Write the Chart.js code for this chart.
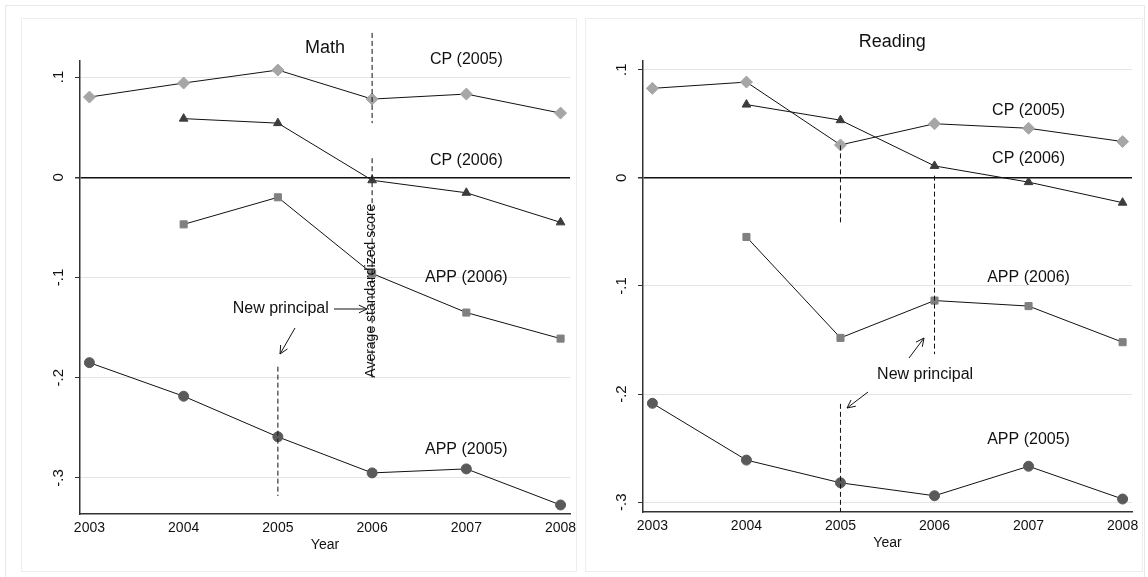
<!DOCTYPE html>
<html><head><meta charset="utf-8">
<script src="https://cdn.jsdelivr.net/npm/chart.js@4"></script>
<style>
body{margin:0;background:#fff;width:1148px;height:577px;position:relative;overflow:hidden;font-family:"Liberation Sans",Arial,sans-serif}
.frame{position:absolute;left:5px;top:5px;width:1138px;height:580px;border:1px solid #e8e8e8}
.panel{position:absolute;top:18px;height:552px;border:1px solid #eee}
canvas{position:absolute;top:0}
</style></head><body>
<div class="frame"></div>
<div class="panel" style="left:21px;width:554px"></div>
<div class="panel" style="left:585px;width:556px"></div>
<canvas id="math" style="left:0"></canvas>
<canvas id="reading" style="left:575px"></canvas>
<script>
const years = [2003, 2004, 2005, 2006, 2007, 2008];
const yTicks = [-0.3, -0.2, -0.1, 0, 0.1];

const mathCP2005 = [0.080, 0.094, 0.107, 0.078, 0.083, 0.064];
const mathCP2006 = [null, 0.0585, 0.054, -0.003, -0.0155, -0.045];
const mathAPP2006 = [null, -0.047, -0.020, -0.096, -0.135, -0.161];
const mathAPP2005 = [-0.185, -0.2185, -0.259, -0.295, -0.291, -0.327];

const readCP2005 = [0.0827, 0.0885, 0.0304, 0.050, 0.0458, 0.0335];
const readCP2006 = [null, 0.0677, 0.0533, 0.011, -0.004, -0.023];
const readAPP2006 = [null, -0.0547, -0.148, -0.1135, -0.1186, -0.152];
const readAPP2005 = [-0.2085, -0.261, -0.282, -0.294, -0.2667, -0.297];

const FONT = '"Liberation Sans", Arial, sans-serif';

function series(label, values, style, color) {
  return {
    label,
    data: years.map((x, i) => values[i] == null ? null : { x, y: values[i] }).filter(Boolean),
    borderColor: "#111",
    borderWidth: 1,
    pointStyle: style,
    pointRadius: style === "rectRot" ? 6 : 5,
    pointBackgroundColor: color,
    pointBorderColor: color,
    tension: 0,
  };
}

function arrow(ctx, x1, y1, x2, y2) {
  ctx.beginPath();
  ctx.moveTo(x1, y1);
  ctx.lineTo(x2, y2);
  const a = Math.atan2(y2 - y1, x2 - x1);
  ctx.moveTo(x2, y2);
  ctx.lineTo(x2 - 9 * Math.cos(a - 0.45), y2 - 9 * Math.sin(a - 0.45));
  ctx.moveTo(x2, y2);
  ctx.lineTo(x2 - 9 * Math.cos(a + 0.45), y2 - 9 * Math.sin(a + 0.45));
  ctx.stroke();
}

function annotationPlugin(draw) {
  return {
    id: "notes",
    afterDatasetsDraw(chart) {
      const { ctx, scales: { x, y } } = chart;
      ctx.save();
      ctx.strokeStyle = "#111";
      ctx.fillStyle = "#111";
      ctx.lineWidth = 1;
      ctx.font = `15px ${FONT}`;
      ctx.textAlign = "center";
      ctx.textBaseline = "middle";
      yTicks.forEach(v => {
        ctx.save();
        ctx.translate(y.left + 9, y.getPixelForValue(v));
        ctx.rotate(-Math.PI / 2);
        ctx.fillText(v === 0 ? "0" : String(v).replace("0.", "."), 0, 0);
        ctx.restore();
      });
      const P = (vx, vy) => [x.getPixelForValue(vx), y.getPixelForValue(vy)];
      const dashed = (vx, y1, y2) => {
        ctx.save();
        ctx.setLineDash([5, 3]);
        ctx.beginPath();
        ctx.moveTo(...P(vx, y1));
        ctx.lineTo(...P(vx, y2));
        ctx.stroke();
        ctx.restore();
      };
      const text = (s, vx, vy, size) => {
        ctx.font = `${size}px ${FONT}`;
        ctx.fillText(s, ...P(vx, vy));
      };
      draw({ ctx, P, dashed, text });
      ctx.restore();
    },
  };
}

function makeChart(id, width, pad, yMin, yMax, data, draw) {
  const canvas = document.getElementById(id);
  canvas.width = width;
  canvas.height = 577;
  canvas.style.width = width + "px";
  canvas.style.height = "577px";
  return new Chart(canvas, {
    type: "line",
    data: { datasets: data },
    options: {
      responsive: false,
      animation: false,
      layout: { padding: pad },
      plugins: { legend: { display: false }, tooltip: { enabled: false } },
      scales: {
        x: {
          type: "linear", min: 2002.9, max: 2008.1,
          afterBuildTicks: s => { s.ticks = years.map(value => ({ value })); },
          afterFit: s => { s.height = 44; },
          grid: { display: false, drawTicks: true, tickLength: 5, color: "#333" },
          border: { color: "#333", width: 1.5 },
          ticks: { color: "#111", font: { family: FONT, size: 14 }, maxRotation: 0, padding: 1, callback: v => String(v) },
          title: { display: true, text: "Year", color: "#111", font: { family: FONT, size: 14 }, padding: { top: -3 } },
        },
        y: {
          min: yMin, max: yMax,
          afterBuildTicks: s => { s.ticks = yTicks.map(value => ({ value })); },
          afterFit: s => { s.width = 30; },
          grid: {
            color: c => c.tick && c.tick.value === 0 ? "#111" : "#e4e4e4",
            lineWidth: c => c.tick && c.tick.value === 0 ? 1.5 : 1,
            tickColor: "#333", tickLength: 5,
          },
          border: { color: "#333", width: 1.5 },
          ticks: { callback: () => "", padding: 0 },
        },
      },
    },
    plugins: [annotationPlugin(draw)],
  });
}

makeChart("math", 580, { left: 50, right: 10, top: 61, bottom: 19 }, -0.336, 0.116, [
  series("CP (2005)", mathCP2005, "rectRot", "#a6a6a6"),
  series("CP (2006)", mathCP2006, "triangle", "#3c3c3c"),
  series("APP (2006)", mathAPP2006, "rect", "#808080"),
  series("APP (2005)", mathAPP2005, "circle", "#5a5a5a"),
], ({ ctx, P, dashed, text }) => {
  text("Math", 2005.5, 0.129, 18);
  text("CP (2005)", 2007, 0.117, 16);
  text("CP (2006)", 2007, 0.017, 16);
  text("APP (2006)", 2007, -0.1, 16);
  text("APP (2005)", 2007, -0.272, 16);
  dashed(2006, 0.144, 0.054);
  dashed(2006, 0.019, -0.2);
  dashed(2005, -0.189, -0.318);
  ctx.save();
  ctx.font = `14px ${FONT}`;
  const [ax, ay] = P(2006, -0.2);
  ctx.translate(ax - 1, ay);
  ctx.rotate(-Math.PI / 2);
  ctx.textAlign = "left";
  ctx.fillText("Average standardized score", 0, 0);
  ctx.restore();
  text("New principal", 2005.03, -0.1315, 16);
  arrow(ctx, 334, 309, 367, 309);
  arrow(ctx, 295, 328, 280, 354);
});

makeChart("reading", 573, { left: 38, right: 16, top: 61, bottom: 21 }, -0.309, 0.108, [
  series("CP (2005)", readCP2005, "rectRot", "#a6a6a6"),
  series("CP (2006)", readCP2006, "triangle", "#3c3c3c"),
  series("APP (2006)", readAPP2006, "rect", "#808080"),
  series("APP (2005)", readAPP2005, "circle", "#5a5a5a"),
], ({ ctx, dashed, text }) => {
  text("Reading", 2005.55, 0.126, 18);
  text("CP (2005)", 2007, 0.062, 16);
  text("CP (2006)", 2007, 0.018, 16);
  text("APP (2006)", 2007, -0.092, 16);
  text("APP (2005)", 2007, -0.242, 16);
  dashed(2005, 0.03, -0.043);
  dashed(2006, 0.002, -0.163);
  dashed(2005, -0.209, -0.309);
  text("New principal", 2005.9, -0.182, 16);
  arrow(ctx, 334, 358, 349, 338);
  arrow(ctx, 293, 392, 272, 408);
});
</script>
</body></html>
